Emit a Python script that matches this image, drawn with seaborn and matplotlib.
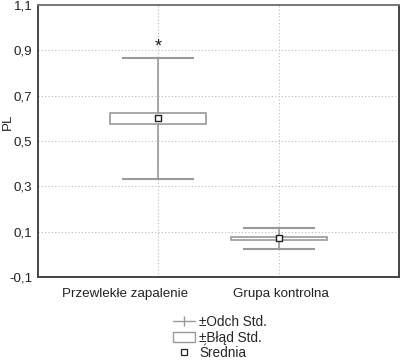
import numpy as np
import pandas as pd
import matplotlib
matplotlib.use("Agg")
import matplotlib.pyplot as plt
import seaborn as sns
from matplotlib.lines import Line2D
from matplotlib.patches import Rectangle

# dane
groups = ["Przewlekłe zapalenie", "Grupa kontrolna"]
means = [0.600, 0.070]
std_err = [0.024, 0.008]
std_dev = [0.266, 0.048]
y_ticks = [-0.1, 0.1, 0.3, 0.5, 0.7, 0.9, 1.1]
y_tick_labels = ["-0,1", "0,1", "0,3", "0,5", "0,7", "0,9", "1,1"]
label_shift = [-0.28, 0.02]  # podpisy kategorii nie sa wysrodkowane w oryginale

sns.set_theme(style="white")
plt.rcParams['font.family'] = ['Liberation Sans', 'DejaVu Sans']

df = pd.DataFrame({"grupa": groups, "srednia": means, "se": std_err, "sd": std_dev})
df["x"] = np.arange(len(df))

fig = plt.figure(figsize=(4.0, 3.62), dpi=100)
ax = fig.add_axes([0.095, 0.235, 0.9025, 0.751])

grey = "#9a9a9a"
# siatka
for yv in y_ticks:
    ax.axhline(yv, color="#bbbbbb", lw=0.8, ls=(0, (1, 2)), zorder=0)
for xv in df["x"]:
    ax.axvline(xv, color="#bbbbbb", lw=0.8, ls=(0, (1, 2)), zorder=0)

# +/- odch. std.
ax.vlines(df["x"], df["srednia"] - df["sd"], df["srednia"] + df["sd"], color=grey, lw=1.2, zorder=2)
ax.hlines(df["srednia"] + df["sd"], df["x"] - 0.3, df["x"] + 0.3, color=grey, lw=1.5, zorder=2)
ax.hlines(df["srednia"] - df["sd"], df["x"] - 0.3, df["x"] + 0.3, color=grey, lw=1.5, zorder=2)

# +/- blad std.
ax.bar(df["x"], 2 * df["se"], bottom=df["srednia"] - df["se"], width=0.8,
       facecolor="white", edgecolor=grey, linewidth=1.2, zorder=3)

# srednia
sns.scatterplot(data=df, x="x", y="srednia", marker="s", s=24, color="white",
                edgecolor="#222222", linewidth=1.0, zorder=4, ax=ax, legend=False)

ax.text(0, 0.915, "*", ha="center", va="center", fontsize=13, color="#222222")

ax.set_xlim(-1, 2)
ax.set_ylim(-0.1, 1.1)
ax.set_xticks([])
for xv, sh, name in zip(df["x"], label_shift, groups):
    ax.text(xv + sh, -0.175, name, ha="center", va="center", fontsize=9.6,
            color="#222222", transform=ax.transData, clip_on=False)
ax.set_yticks(y_ticks)
ax.set_yticklabels(y_tick_labels, fontsize=9.6, color="#222222")
ax.tick_params(length=0, pad=4)
ax.set_xlabel("")
ax.set_ylabel("")
fig.text(0.02, 1 - 122 / 362, "PL", rotation=90, ha="center", va="center",
         fontsize=9.6, color="#222222")
for side, sp in ax.spines.items():
    sp.set_color("#444444")
    sp.set_linewidth(1.4)
ax.spines["top"].set_color("#777777")

handles = [
    Line2D([0], [0], color=grey, lw=1.0, marker="|", markersize=7, markeredgewidth=1.0),
    Rectangle((0, 0), 1, 1, facecolor="white", edgecolor=grey, linewidth=1.0),
    Line2D([0], [0], ls="none", marker="s", markersize=4, markerfacecolor="white",
           markeredgecolor="#222222", markeredgewidth=0.9),
]
labels = ["±Odch Std.", "±Błąd Std.", "Średnia"]
fig.legend(handles, labels, loc="upper left", bbox_to_anchor=(0.415, 0.148),
           frameon=False, fontsize=9.8, handlelength=1.6, handleheight=0.7,
           handletextpad=0.35, labelspacing=0.1, borderpad=0)

fig.savefig("out.png", dpi=100)
